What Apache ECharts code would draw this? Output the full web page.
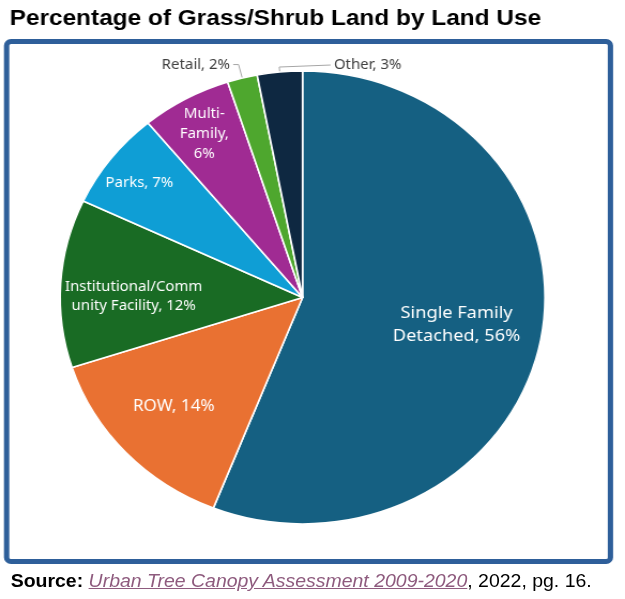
<!DOCTYPE html>
<html lang="en">
<head>
<meta charset="UTF-8">
<title>Percentage of Grass/Shrub Land by Land Use</title>
<script src="https://cdn.jsdelivr.net/npm/echarts@6/dist/echarts.min.js"></script>
<style>
    html, body { margin: 0; padding: 0; background: #fff; }
    /* the reference is a little wider than tall, so the whole drawing is stretched */
    #wrap { position: relative; width: 584px; height: 599px; transform: scaleX(1.0702); transform-origin: 0 0; }
    #main { width: 584px; height: 599px; }
    #source { position: absolute; left: 10px; top: 571px; font-family: 'Liberation Sans', Arial, sans-serif;
              font-size: 18.2px; color: #000; white-space: nowrap; }
    #source i { color: #8e5b7e; text-decoration: underline; }
</style>
</head>
<body>
<div id="wrap">
    <div id="main"></div>
    <div id="source"><b>Source:</b> <i>Urban Tree Canopy Assessment 2009-2020</i>, 2022, pg. 16.</div>
</div>

<script>
    var categories = ['Single Family Detached', 'ROW', 'Institutional/Community Facility', 'Parks',
                      'Multi-Family', 'Retail', 'Other'];
    var values = [56, 14, 12, 7, 6, 2, 3];
    // label wording as printed on the chart ({v} = value)
    var labelTexts = ['Single Family\nDetached, {v}%', 'ROW, {v}%', 'Institutional/Comm\nunity Facility, {v}%',
                      'Parks, {v}%', 'Multi-\nFamily,\n{v}%', 'Retail, {v}%', 'Other, {v}%'];
    var colors = ['#156082', '#E97132', '#196B24', '#0F9ED5', '#A02B93', '#4EA72E', '#0E2841'];

    // pie geometry in (unstretched) pixels
    var cx = 282.7, cy = 297.5, R = 226.5;
    // how far out each inside label sits, as part of the radius (null = label outside)
    var labelReach = [0.63, 0.71, 0.68, 0.83, 0.82, null, null];
    var labelNudgeY = [0, -4, 9, 4, 4, 0, 0];
    var labelSize = [17, 16, 14, 14, 14, 14, 14];
    var labelLH = [23, 20, 19, 19, 20, 18, 18];

    var myChart = echarts.init(document.getElementById('main'));

    var pieData = [];
    for (var i = 0; i < categories.length; i++) {
        var outside = labelReach[i] === null;
        pieData.push({
            name: categories[i],
            value: values[i],
            itemStyle: { color: colors[i] },
            label: {
                position: outside ? 'outside' : 'inside',
                color: outside ? '#404040' : '#ffffff',
                fontSize: labelSize[i],
                lineHeight: labelLH[i]
            },
            labelLine: outside ? { show: true, length: (i === 5 ? 14 : 5), length2: (i === 5 ? 5 : 48) } : { show: false }
        });
    }

    myChart.setOption({
        animation: false,
        title: {
            text: 'Percentage of Grass/Shrub Land by Land Use',
            left: 9,
            top: 7,
            padding: 0,
            textStyle: { fontFamily: 'Liberation Sans', fontWeight: 'bold', fontSize: 22.8, color: '#000' }
        },
        graphic: [{
            type: 'rect',
            shape: { x: 6.2, y: 41.5, width: 564.2, height: 520, r: 4 },
            style: { fill: 'none', stroke: '#2e5f9a', lineWidth: 5 },
            silent: true
        }],
        series: [{
            type: 'pie',
            center: [cx, cy],
            radius: [0, R],
            startAngle: 90,
            clockwise: true,
            avoidLabelOverlap: false,
            itemStyle: { borderColor: '#fff', borderWidth: 1.6 },
            label: {
                fontFamily: 'Noto Sans',
                distanceToLabelLine: 3,
                formatter: function (p) {
                    return labelTexts[p.dataIndex].replace('{v}', p.value);
                }
            },
            labelLine: { lineStyle: { color: '#a6a6a6', width: 1 } },
            labelLayout: function (p) {
                var i = p.dataIndex;
                var r = p.labelRect;
                if (labelReach[i] !== null) {
                    // push inside labels out along their slice's middle
                    var f = labelReach[i] / 0.5 - 1;
                    var lx = r.x + r.width / 2, ly = r.y + r.height / 2;
                    return { dx: (lx - cx) * f, dy: (ly - cy) * f + labelNudgeY[i] };
                }
                if (i === 6 && p.labelLinePoints) {
                    // "Other" label sits on the right of its leader line
                    var pts = p.labelLinePoints;
                    var p1 = pts[1], p2 = pts[2];
                    var nx = p1[0] + (p1[0] - p2[0]);
                    return {
                        x: nx + 3, y: p2[1] - 2, align: 'left', verticalAlign: 'middle',
                        labelLinePoints: [pts[0], p1, [nx, p2[1] - 2]]
                    };
                }
                return {};
            },
            data: pieData
        }]
    });
</script>
</body>
</html>
